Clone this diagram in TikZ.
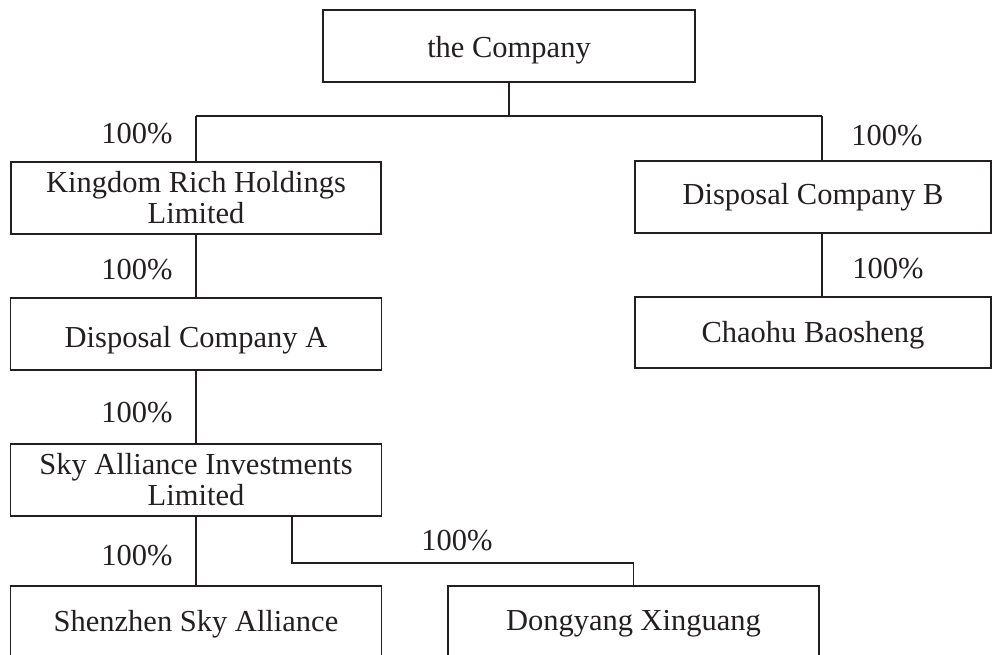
\documentclass[tikz,border=0pt]{standalone}
\usepackage{fontspec}
\setmainfont{Liberation Serif}
\definecolor{ink}{HTML}{231F20}
\newcommand{\dropby}[2]{\raisebox{-#1}[\height][\depth]{#2}}
\begin{document}
\begin{tikzpicture}[x=1pt,y=-1pt,
  box/.style={draw=ink, line width=1.5pt, text=ink, align=center, inner sep=0pt,
              font=\fontsize{30.5}{31}\selectfont},
  pct/.style={text=ink, inner sep=0pt, font=\fontsize{30.5}{31}\selectfont},
  link/.style={draw=ink, line width=1.5pt}]
\path[use as bounding box] (0,0) rectangle (993,654);
\clip (0,0) rectangle (993,654);

% boxes
\node[box, minimum width=372pt, minimum height=72pt] (comp) at (509,46) {\dropby{4pt}{the Company}};
\node[box, minimum width=370pt, minimum height=72pt] (krh) at (196,198) {Kingdom Rich Holdings\\Limited};
\node[box, minimum width=356pt, minimum height=72pt] (dcb) at (813,197) {Disposal Company B};
\node[box, minimum width=371pt, minimum height=72pt] (dca) at (196,334) {\dropby{6pt}{Disposal Company A}};
\node[box, minimum width=356pt, minimum height=71pt] (chb) at (813,332.5) {\dropby{3pt}{Chaohu Baosheng}};
\node[box, minimum width=371pt, minimum height=72pt] (sky) at (196,480) {Sky Alliance Investments\\Limited};
\node[box, minimum width=371pt, minimum height=72pt] (szn) at (196,622) {\dropby{2pt}{Shenzhen Sky Alliance}};
\node[box, minimum width=371pt, minimum height=72pt] (dyx) at (633.5,622) {\dropby{2pt}{Dongyang Xinguang}};

% junctions
\coordinate (jm) at (509,116);
\coordinate (jl) at (196,116);
\coordinate (jr) at (822,116);
\coordinate (bs) at (292,563);

% connectors
\draw[link] (comp.south) -- (jm);
\draw[link] (jl) -- (jr);
\draw[link] (jl) -- (krh.north);
\draw[link] (jr) -- (jr |- dcb.north);
\draw[link] (krh.south) -- (dca.north);
\draw[link] (dcb.south -| jr) -- (chb.north -| jr);
\draw[link] (dca.south) -- (sky.north);
\draw[link] (sky.south) -- (szn.north);
\draw[link] (sky.south -| bs) -- (bs) -| (dyx.north);

% labels
\node[pct] (l1) at (137,134) {100\%};
\node[pct] (r1) at (887,136) {100\%};
\node[pct] (l2) at (137,270) {100\%};
\node[pct] (r2) at (888,269) {100\%};
\node[pct] (l3) at (137,413) {100\%};
\node[pct] (l4) at (137,556) {100\%};
\node[pct] (l5) at (457,541) {100\%};
\end{tikzpicture}
\end{document}
